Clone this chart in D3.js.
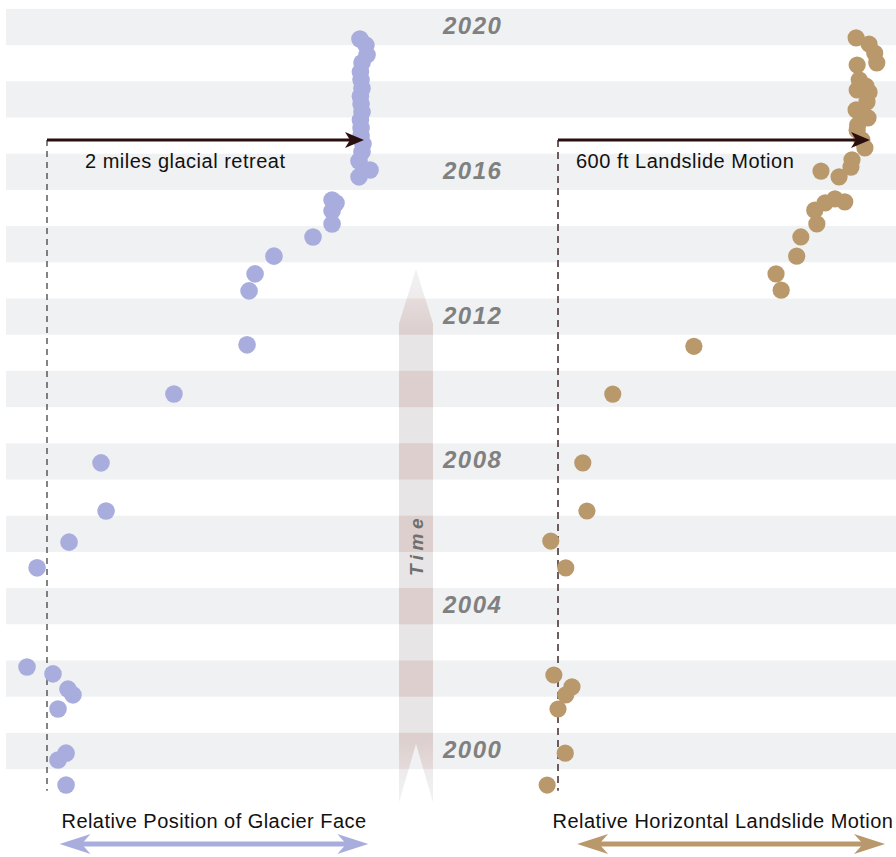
<!DOCTYPE html>
<html>
<head>
<meta charset="utf-8">
<script src="https://cdn.jsdelivr.net/npm/d3@7"></script>
<style>
  body { margin: 0; background: #fff; }
  svg { display: block; font-family: "Liberation Sans", Arial, sans-serif; }
</style>
</head>
<body>
<svg id="chart" width="896" height="857"></svg>
<script>
// glacier face position (miles, relative) by decimal year
var glacierYear = [1999.06, 1999.75, 1999.94, 2001.16, 2001.55, 2001.71, 2002.13, 2002.32,
  2005.06, 2005.77, 2006.63, 2007.96, 2009.86, 2011.22, 2012.71, 2013.18, 2013.67,
  2014.20, 2014.56, 2014.92, 2015.14, 2015.22, 2015.86, 2016.05, 2016.30, 2016.55,
  2016.77, 2016.99, 2017.21, 2017.43, 2017.65, 2017.87, 2018.09, 2018.31, 2018.54,
  2018.76, 2019.01, 2019.23, 2019.50, 2019.67];
var glacierMiles = [0.121, 0.070, 0.121, 0.070, 0.165, 0.133, 0.038, -0.127,
  -0.063, 0.140, 0.375, 0.343, 0.806, 1.270, 1.283, 1.321, 1.441,
  1.689, 1.810, 1.810, 1.835, 1.810, 1.981, 2.051, 1.981, 2.000,
  2.006, 1.994, 1.994, 1.990, 2.000, 1.994, 1.990, 2.000, 1.994,
  1.990, 2.000, 2.032, 2.025, 1.987];

// landslide horizontal motion (ft, relative) by decimal year
var slideYear = [1999.06, 1999.94, 2001.16, 2001.55, 2001.77, 2002.10,
  2005.06, 2005.80, 2006.63, 2007.96, 2009.86, 2011.18, 2012.73, 2013.18, 2013.67,
  2014.20, 2014.56, 2014.94, 2015.14, 2015.25, 2015.17, 2015.86, 2016.02, 2016.13,
  2016.33, 2016.66, 2016.88, 2017.15, 2017.29, 2017.49, 2017.71, 2017.93, 2018.20,
  2018.26, 2018.37, 2018.54, 2018.95, 2019.01, 2019.28, 2019.53, 2019.70];
var slideFeet = [-21, 14, 0, 15, 27, -8,
  15, -14, 56, 48, 106, 263, 432, 422, 462,
  470, 501, 497, 517, 536, 555, 544, 509, 567,
  569, 594, 588, 579, 580, 600, 577, 598, 602,
  579, 596, 583, 579, 617, 613, 602, 577];

var yearLabels = [2000, 2004, 2008, 2012, 2016, 2020];
var stripeYears = d3.range(2000, 2021, 2);

var svg = d3.select("#chart");
var W = 896;

var y = d3.scaleLinear().domain([2000, 2020]).range([751, 27]);
var xG = d3.scaleLinear().domain([0, 2]).range([47, 362]);
var xL = d3.scaleLinear().domain([0, 600]).range([558, 868]);
var yearH = Math.abs(y(2001) - y(2000));

var glacierColor = "#a9addd";
var slideColor = "#b9996b";
var arrowDark = "#2a0f0f";

// background stripes
svg.append("g").selectAll("rect").data(stripeYears).enter().append("rect")
  .attr("x", 6)
  .attr("width", W - 6)
  .attr("y", function(d) { return y(d) - yearH / 2; })
  .attr("height", yearH)
  .attr("fill", "#f0f1f2");

// time arrow in the middle
var tx0 = 399, tx1 = 433, tmid = (tx0 + tx1) / 2;
var tTop = y(2013.3), tHeadBase = y(2011.8), tBottom = y(1998.6), tNotch = y(2000.2);
var timePath = "M" + tmid + "," + tTop + "L" + tx1 + "," + tHeadBase + "L" + tx1 + "," + tBottom +
  "L" + tmid + "," + tNotch + "L" + tx0 + "," + tBottom + "L" + tx0 + "," + tHeadBase + "Z";

var defs = svg.append("defs");
defs.append("clipPath").attr("id", "timeClip").append("path").attr("d", timePath);
var grad = defs.append("linearGradient").attr("id", "timeFade")
  .attr("x1", 0).attr("y1", 0).attr("x2", 0).attr("y2", 1);
grad.append("stop").attr("offset", "0%").attr("stop-color", "#fff").attr("stop-opacity", 0.5);
grad.append("stop").attr("offset", "12%").attr("stop-color", "#fff").attr("stop-opacity", 0);
grad.append("stop").attr("offset", "88%").attr("stop-color", "#fff").attr("stop-opacity", 0);
grad.append("stop").attr("offset", "100%").attr("stop-color", "#fff").attr("stop-opacity", 0.5);

var tg = svg.append("g");
tg.append("path").attr("d", timePath).attr("fill", "#e7e5e5");
tg.append("g").attr("clip-path", "url(#timeClip)")
  .selectAll("rect").data(stripeYears).enter().append("rect")
  .attr("x", tx0).attr("width", tx1 - tx0)
  .attr("y", function(d) { return y(d) - yearH / 2; })
  .attr("height", yearH)
  .attr("fill", "#dccfce");
tg.append("path").attr("d", timePath).attr("fill", "url(#timeFade)");

tg.append("text")
  .attr("transform", "translate(" + (tmid + 7) + "," + 545 + ") rotate(-90)")
  .attr("text-anchor", "middle")
  .attr("font-size", 19)
  .attr("font-weight", "bold")
  .attr("font-style", "italic")
  .attr("letter-spacing", 4.5)
  .attr("fill", "#6f6f6f")
  .text("Time");

// year labels
svg.append("g").selectAll("text").data(yearLabels).enter().append("text")
  .attr("x", 443)
  .attr("y", function(d) { return y(d) + 7; })
  .attr("font-size", 24)
  .attr("font-weight", "bold")
  .attr("font-style", "italic")
  .attr("letter-spacing", 1.5)
  .attr("fill", "#808080")
  .text(function(d) { return d; });

// dashed reference lines
var arrowY = y(2016.88);
var dashBottom = y(1998.9);
svg.append("line")
  .attr("x1", xG(0)).attr("x2", xG(0))
  .attr("y1", arrowY).attr("y2", dashBottom)
  .attr("stroke", "#333").attr("stroke-width", 1.2)
  .attr("stroke-dasharray", "6,5");
svg.append("line")
  .attr("x1", xL(0)).attr("x2", xL(0))
  .attr("y1", arrowY).attr("y2", dashBottom)
  .attr("stroke", "#4a3838").attr("stroke-width", 1.6)
  .attr("stroke-dasharray", "7,5");

// points
var glacierData = glacierYear.map(function(d, i) { return { year: d, v: glacierMiles[i] }; });
var slideData = slideYear.map(function(d, i) { return { year: d, v: slideFeet[i] }; });

svg.append("g").selectAll("circle").data(glacierData).enter().append("circle")
  .attr("cx", function(d) { return xG(d.v); })
  .attr("cy", function(d) { return y(d.year); })
  .attr("r", 8.8)
  .attr("fill", glacierColor);

svg.append("g").selectAll("circle").data(slideData).enter().append("circle")
  .attr("cx", function(d) { return xL(d.v); })
  .attr("cy", function(d) { return y(d.year); })
  .attr("r", 8.6)
  .attr("fill", slideColor);

// annotation arrows
function topArrow(x0, x1) {
  svg.append("line")
    .attr("x1", x0).attr("x2", x1 - 12)
    .attr("y1", arrowY).attr("y2", arrowY)
    .attr("stroke", arrowDark).attr("stroke-width", 3);
  svg.append("path")
    .attr("d", "M" + (x1 + 2) + "," + arrowY + "L" + (x1 - 17) + "," + (arrowY - 8) +
      "L" + (x1 - 12) + "," + arrowY + "L" + (x1 - 17) + "," + (arrowY + 8) + "Z")
    .attr("fill", arrowDark);
}
topArrow(xG(0), xG(2));
topArrow(xL(0), xL(600));

function annot(x, txt) {
  svg.append("text")
    .attr("x", x).attr("y", arrowY + 28)
    .attr("font-size", 20)
    .attr("letter-spacing", 0.5)
    .attr("fill", "#111")
    .text(txt);
}
annot(85, "2 miles glacial retreat");
annot(576, "600 ft Landslide Motion");

// bottom axis labels with double arrows
var labY = 828, darY = 844;
function doubleArrow(x0, x1, col) {
  svg.append("line")
    .attr("x1", x0 + 20).attr("x2", x1 - 20)
    .attr("y1", darY).attr("y2", darY)
    .attr("stroke", col).attr("stroke-width", 5);
  svg.append("path")
    .attr("d", "M" + x0 + "," + darY + "L" + (x0 + 31) + "," + (darY - 10) + "L" + (x0 + 22) + "," + darY +
      "L" + (x0 + 31) + "," + (darY + 10) + "Z")
    .attr("fill", col);
  svg.append("path")
    .attr("d", "M" + x1 + "," + darY + "L" + (x1 - 31) + "," + (darY - 10) + "L" + (x1 - 22) + "," + darY +
      "L" + (x1 - 31) + "," + (darY + 10) + "Z")
    .attr("fill", col);
}
doubleArrow(xG(0.08), xG(2.04), glacierColor);
doubleArrow(xL(37), xL(633), slideColor);

svg.append("text")
  .attr("x", 214).attr("y", labY)
  .attr("text-anchor", "middle")
  .attr("font-size", 20).attr("letter-spacing", 0.45)
  .attr("fill", "#111")
  .text("Relative Position of Glacier Face");
svg.append("text")
  .attr("x", 723).attr("y", labY)
  .attr("text-anchor", "middle")
  .attr("font-size", 20).attr("letter-spacing", 0.45)
  .attr("fill", "#111")
  .text("Relative Horizontal Landslide Motion");
</script>
</body>
</html>
